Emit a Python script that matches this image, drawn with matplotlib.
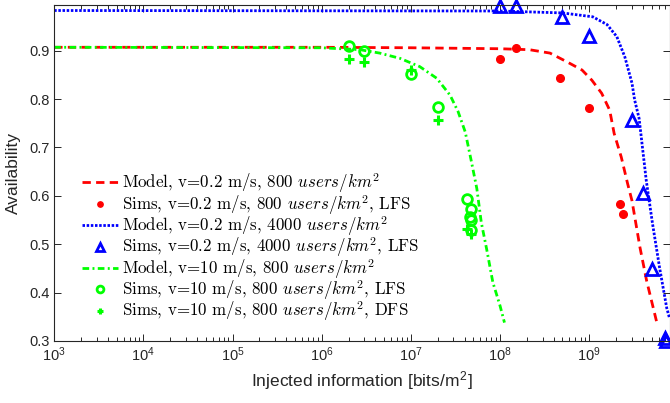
import numpy as np
import matplotlib
matplotlib.use("Agg")
import matplotlib.pyplot as plt
from matplotlib.ticker import LogLocator, FixedLocator, NullFormatter

plt.rcParams["font.family"] = ["Liberation Sans", "DejaVu Sans"]
plt.rcParams["mathtext.fontset"] = "cm"

# Model curves (log10 of injected information, availability)
red_model_logx = [3.0, 6.0, 7.0, 7.5, 8.0, 8.33, 8.56, 8.75, 8.92, 9.03, 9.14, 9.23,
                  9.28, 9.36, 9.43, 9.48, 9.57, 9.645, 9.735, 9.76]
red_model_y = [0.907, 0.907, 0.906, 0.905, 0.904, 0.902, 0.895, 0.877, 0.860, 0.839,
               0.812, 0.777, 0.729, 0.680, 0.626, 0.590, 0.493, 0.424, 0.356, 0.337]

blue_model_logx = [3.0, 8.0, 8.7, 9.04, 9.2, 9.31, 9.4, 9.48, 9.51, 9.56, 9.64, 9.71,
                   9.79, 9.87, 9.9]
blue_model_y = [0.983, 0.982, 0.978, 0.970, 0.954, 0.929, 0.887, 0.833, 0.798, 0.760,
                0.632, 0.543, 0.451, 0.368, 0.348]

green_model_logx = [3.0, 6.0, 6.43, 6.65, 6.88, 7.10, 7.29, 7.44, 7.53, 7.61, 7.68,
                    7.74, 7.79, 7.85, 7.92, 8.0, 8.05]
green_model_y = [0.907, 0.906, 0.902, 0.895, 0.884, 0.867, 0.843, 0.808, 0.774, 0.732,
                 0.670, 0.615, 0.545, 0.490, 0.421, 0.373, 0.338]

# Simulation points
red_sims_x = [1e8, 1.5e8, 4.7e8, 1e9, 2.2e9, 2.4e9]
red_sims_y = [0.883, 0.906, 0.844, 0.781, 0.584, 0.563]

blue_sims_x = [1e8, 1.5e8, 5e8, 1e9, 3e9, 4e9, 5e9, 7e9, 7.2e9]
blue_sims_y = [0.993, 0.993, 0.970, 0.931, 0.756, 0.605, 0.449, 0.306, 0.299]

green_lfs_x = [2e6, 3e6, 1e7, 2e7, 4.3e7, 4.7e7, 4.6e7, 4.75e7, 4.75e7]
green_lfs_y = [0.910, 0.900, 0.851, 0.783, 0.594, 0.572, 0.556, 0.550, 0.530]

green_dfs_x = [2e6, 3e6, 1e7, 2e7, 4.3e7, 4.75e7]
green_dfs_y = [0.882, 0.877, 0.860, 0.756, 0.532, 0.521]

x_ticks = [1e3, 1e4, 1e5, 1e6, 1e7, 1e8, 1e9]
y_ticks = [0.3, 0.4, 0.5, 0.6, 0.7, 0.8, 0.9]

labels = [
    r"Model, v=0.2 m/s, 800 $users/km^2$",
    r"Sims, v=0.2 m/s, 800 $users/km^2$, LFS",
    r"Model, v=0.2 m/s, 4000 $users/km^2$",
    r"Sims, v=0.2 m/s, 4000 $users/km^2$, LFS",
    r"Model, v=10 m/s, 800 $users/km^2$",
    r"Sims, v=10 m/s, 800 $users/km^2$, LFS",
    r"Sims, v=10 m/s, 800 $users/km^2$, DFS",
]

AX_COLOR = "#262626"

fig = plt.figure(figsize=(6.7, 4.03), dpi=100)
ax = fig.add_axes([54.2 / 670, 62 / 403, 615.5 / 670, 336.3 / 403])

ax.plot(10 ** np.array(red_model_logx), red_model_y, color="red", lw=2,
        dashes=(3.0, 1.9), label=labels[0])
ax.plot(red_sims_x, red_sims_y, "o", color="red", ms=5.5, mec="red", mfc="red",
        clip_on=False, label=labels[1])
ax.plot(10 ** np.array(blue_model_logx), blue_model_y, color="blue", lw=2,
        dashes=(0.9, 0.6), label=labels[2])
ax.plot(blue_sims_x, blue_sims_y, "^", color="blue", ms=8, mfc="none", mew=2,
        clip_on=False, label=labels[3])
ax.plot(10 ** np.array(green_model_logx), green_model_y, color="#00ff00", lw=2,
        dashes=(2.4, 1.2, 0.7, 1.2), label=labels[4])
ax.plot(green_lfs_x, green_lfs_y, "o", color="#00ff00", ms=7, mfc="none", mew=2,
        label=labels[5])
ax.plot(green_dfs_x, green_dfs_y, "+", color="#00ff00", ms=6.5, mew=2.2,
        label=labels[6])

ax.set_xscale("log")
ax.set_xlim(1e3, 8e9)
ax.set_ylim(0.3, 0.995)
ax.xaxis.set_major_locator(FixedLocator(x_ticks))
ax.xaxis.set_minor_locator(LogLocator(base=10, subs=np.arange(2, 10), numticks=100))
ax.xaxis.set_minor_formatter(NullFormatter())
ax.yaxis.set_major_locator(FixedLocator(y_ticks))

ax.tick_params(which="both", direction="in", top=True, right=True, colors=AX_COLOR,
               labelsize=10.5, width=0.7)
ax.tick_params(which="major", length=5)
ax.tick_params(which="minor", length=3)
for spine in ax.spines.values():
    spine.set_color(AX_COLOR)
    spine.set_linewidth(0.8)

ax.set_xlabel(r"Injected information [bits/m$^\mathregular{2}$]", fontsize=12.5,
              color=AX_COLOR, labelpad=4)
ax.set_ylabel("Availability", fontsize=12.5, color=AX_COLOR, labelpad=6)

ax.legend(loc="center left", bbox_to_anchor=(0.045, 0.278), frameon=False,
          prop={"family": "cmr10", "size": 12.2}, borderaxespad=0, borderpad=0,
          handlelength=2.13, handletextpad=0.24, labelspacing=-0.15, markerscale=0.7)

fig.savefig("out.png", dpi=100)
